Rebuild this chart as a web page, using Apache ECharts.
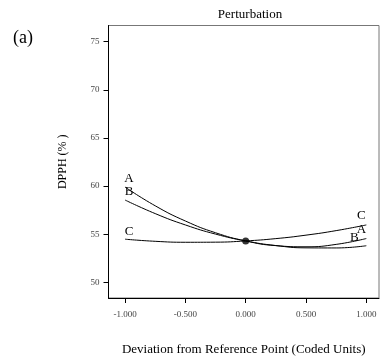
<!DOCTYPE html>
<html>
<head>
<meta charset="utf-8">
<script src="https://cdn.jsdelivr.net/npm/echarts@6/dist/echarts.min.js"></script>
<style>
  html, body { margin: 0; padding: 0; background: #fff; }
  #chart { width: 382px; height: 361px; }
</style>
</head>
<body>
<div id="chart"></div>
<script>
// coded deviation from reference point
var xs = [-1, -0.75, -0.5, -0.25, 0, 0.25, 0.5, 0.75, 1]
// DPPH (%)
var seriesA = [59.9, 57.95, 56.37, 55.15, 54.3, 53.81, 53.69, 53.94, 54.55]
var seriesB = [58.55, 57.14, 55.96, 55.01, 54.3, 53.82, 53.58, 53.57, 53.8]
var seriesC = [54.48, 54.26, 54.16, 54.17, 54.3, 54.54, 54.9, 55.37, 55.96]
var refPoint = [0, 54.3]
var xTicks = [-1, -0.5, 0, 0.5, 1]
var yTicks = [50, 55, 60, 65, 70, 75]

var serif = 'Liberation Serif'
var myChart = echarts.init(document.getElementById('chart'))

function pairs (ys) {
  return xs.map(function (x, i) { return [x, ys[i]] })
}

// letter at each end of a curve
function endLabels (name, ys, leftOff, rightOff) {
  var last = xs.length - 1
  function mk (x, y, off) {
    return {
      coord: [x, y],
      symbol: 'circle',
      symbolSize: 0,
      label: {
        show: true,
        formatter: name,
        position: 'inside',
        offset: off,
        color: '#000',
        fontFamily: serif,
        fontSize: 13
      }
    }
  }
  return {
    silent: true,
    data: [mk(xs[0], ys[0], leftOff), mk(xs[last], ys[last], rightOff)]
  }
}

function curve (name, ys, leftOff, rightOff) {
  return {
    name: name,
    type: 'line',
    data: pairs(ys),
    smooth: true,
    showSymbol: false,
    silent: true,
    lineStyle: { color: '#000', width: 1 },
    markPoint: endLabels(name, ys, leftOff, rightOff)
  }
}

var options = {
  animation: false,
  title: [
    {
      text: 'Perturbation',
      left: 245,
      textAlign: 'center',
      top: 3,
      textStyle: { fontFamily: serif, fontSize: 13, fontWeight: 'normal', color: '#000' }
    },
    {
      text: '(a)',
      left: 8,
      top: 24,
      textStyle: { fontFamily: serif, fontSize: 18, fontWeight: 'normal', color: '#000' }
    }
  ],
  grid: {
    left: 108.5,
    right: 3,
    top: 25.5,
    bottom: 62.5,
    show: true,
    borderColor: '#777',
    borderWidth: 1
  },
  xAxis: {
    type: 'value',
    min: -1.137,
    max: 1.105,
    name: 'Deviation from Reference Point (Coded Units)',
    nameLocation: 'middle',
    nameGap: 45,
    nameTextStyle: { fontFamily: serif, fontSize: 13, color: '#000' },
    axisLine: { onZero: false, lineStyle: { color: '#000', width: 1 } },
    axisTick: { customValues: xTicks, length: 5, lineStyle: { color: '#000' } },
    axisLabel: {
      customValues: xTicks,
      margin: 12,
      fontFamily: serif,
      fontSize: 9,
      color: '#444',
      formatter: function (v) { return v.toFixed(3) }
    },
    splitLine: { show: false }
  },
  yAxis: {
    type: 'value',
    min: 48.37,
    max: 76.68,
    name: 'DPPH (% )',
    nameLocation: 'middle',
    nameRotate: 90,
    nameGap: 40,
    nameTextStyle: { fontFamily: serif, fontSize: 12, color: '#000' },
    axisLine: { show: true, onZero: false, lineStyle: { color: '#000', width: 1 } },
    axisTick: { show: true, customValues: yTicks, length: 5, lineStyle: { color: '#000' } },
    axisLabel: {
      customValues: yTicks,
      margin: 9,
      fontFamily: serif,
      fontSize: 9,
      color: '#444'
    },
    splitLine: { show: false }
  },
  series: [
    curve('A', seriesA, [4, -8], [-5, -9]),
    curve('B', seriesB, [4, -8], [-12, -8]),
    curve('C', seriesC, [4, -8], [-5, -9]),
    {
      name: 'Reference',
      type: 'scatter',
      data: [refPoint],
      symbolSize: 7,
      silent: true,
      itemStyle: { color: '#000' }
    }
  ]
}

myChart.setOption(options)
</script>
</body>
</html>
